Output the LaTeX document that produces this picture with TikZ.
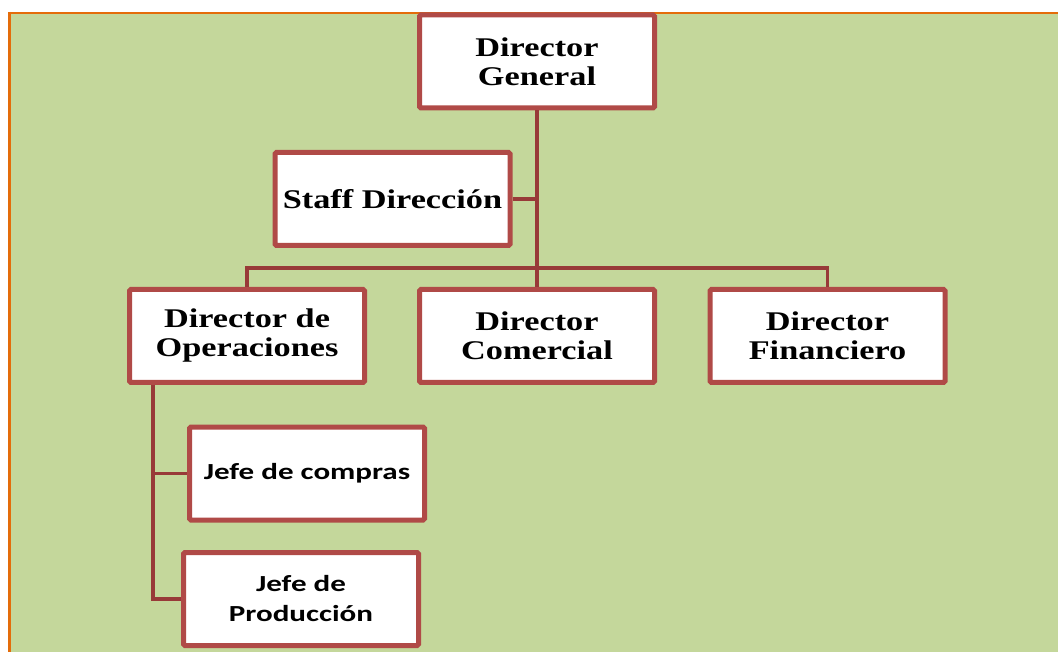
\documentclass[tikz,border=0pt]{standalone}
\usepackage{fontspec}
\setmainfont{Liberation Serif}[FakeStretch=1.27]
\newfontfamily\jefefont{Carlito}[FakeStretch=1.35]
\definecolor{fondo}{RGB}{196,215,155}
\definecolor{marco}{RGB}{228,108,10}
\definecolor{borde}{RGB}{176,74,71}
\definecolor{linea}{RGB}{152,58,56}
\begin{document}
\begin{tikzpicture}[x=1pt, y=-1pt,
  cargo/.style={draw=borde, line width=5pt, fill=white, rounded corners=1.5pt,
    minimum width=235pt, minimum height=93pt, align=center, inner sep=0pt,
    font=\fontsize{27}{29}\selectfont\bfseries},
  jefe/.style={cargo, font=\jefefont\fontsize{23}{30}\selectfont\bfseries},
  enlace/.style={draw=linea, line width=3.6pt}]
\useasboundingbox (0,0) rectangle (1058,652);
\fill[white] (0,0) rectangle (1058,652);
\fill[fondo] (11,14) rectangle (1058,652);
\draw[marco, line width=2.5pt] (8,13) -- (1058,13);
\draw[marco, line width=3.2pt] (9.5,12) -- (9.5,652);
\coordinate (bus) at (537,268);
\coordinate (spine) at (153,0);
\node[cargo] (dg) at (537,61.5) {Director\\General};
\node[cargo] (staff) at (392.5,199) {Staff Dirección};
\node[cargo] (ops) at (247,336) {Director de\\Operaciones};
\node[cargo] (com) at (537,336) {Director\\Comercial};
\node[cargo] (fin) at (827.5,336) {Director\\Financiero};
\node[jefe] (compras) at (307,473.5) {Jefe de compras};
\node[jefe] (prod) at (301,599) {Jefe de\\Producción};
\draw[enlace] (dg.south) -- (com.north);
\draw[enlace] (staff.east) -- (staff.east -| dg.south);
\draw[enlace] (ops.north) |- (bus) -| (fin.north);
\draw[enlace] (spine |- ops.south) |- (prod.west);
\draw[enlace] (spine |- compras.west) -- (compras.west);
\end{tikzpicture}
\end{document}
